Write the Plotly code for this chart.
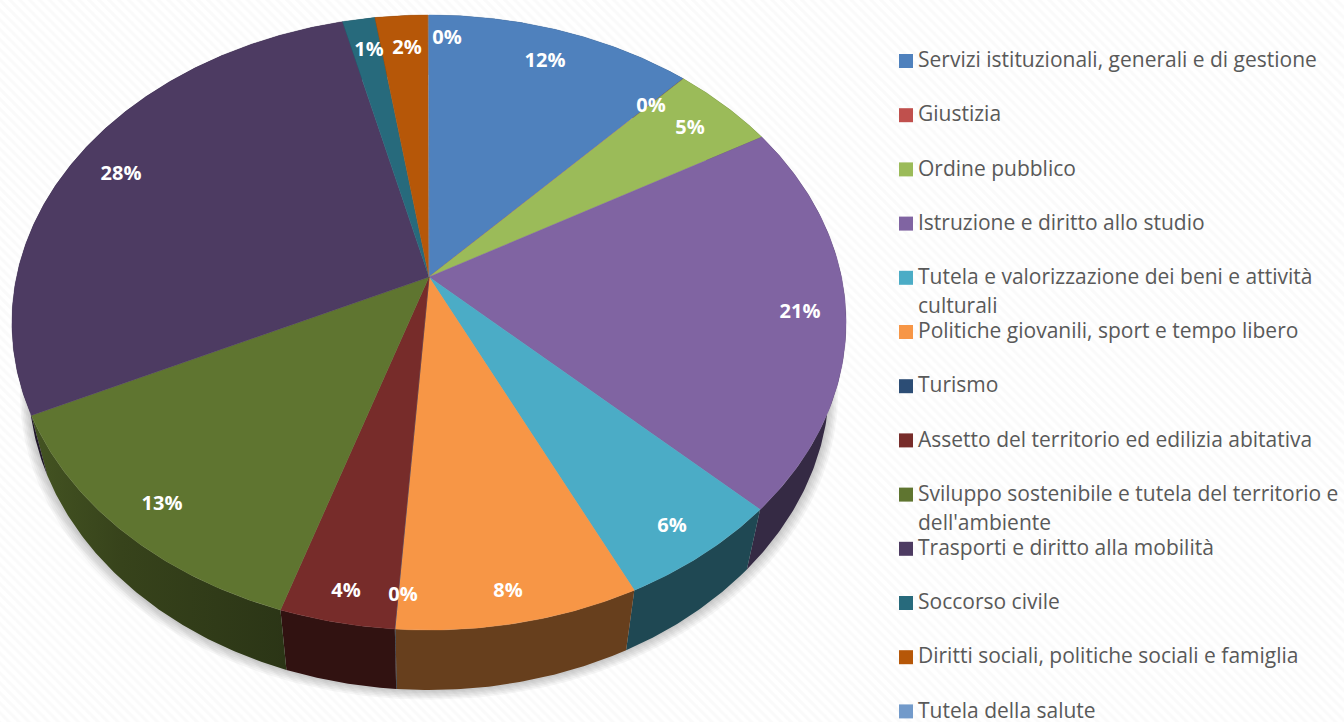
import numpy as np
import plotly.graph_objects as go

categories = ["Servizi istituzionali, generali e di gestione", "Giustizia", "Ordine pubblico",
              "Istruzione e diritto allo studio", "Tutela e valorizzazione dei beni e attività",
              "Politiche giovanili, sport e tempo libero", "Turismo",
              "Assetto del territorio ed edilizia abitativa",
              "Sviluppo sostenibile e tutela del territorio e", "Trasporti e diritto alla mobilità",
              "Soccorso civile", "Diritti sociali, politiche sociali e famiglia", "Tutela della salute"]
wrapped = {4: "culturali", 8: "dell'ambiente"}
values = [11.95, 0.02, 4.7, 20.52, 5.7, 8.2, 0.02, 3.88, 12.9, 28.23, 1.45, 2.37, 0.03]
colors = ["#4f81bd", "#c0504d", "#9bbb59", "#8064a2", "#4bacc6", "#f79646", "#2c4d75",
          "#772c2a", "#5f7530", "#4d3b62", "#276a7c", "#b65708", "#729aca"]
label_x = [545, 651, 690, 800, 672, 508, 403, 346, 162, 121, 369, 407, 447]
label_y = [62, 107, 129, 313, 527, 592, 596, 592, 505, 175, 51, 49, 39]

# projection of the tilted disc, in pixel-like axis units
APEX_X, APEX_Y = 429.0, 277.0
A, B, K = 300.8, 412.5, -0.148
DEPTH, SHRINK = 60.0, 0.96
SIDE = 0.42


def rim(frac):
    t = 2 * np.pi * np.asarray(frac)
    u, v = np.sin(t), -np.cos(t)
    w = 1 + K * v
    return APEX_X + B * u / w, APEX_Y + A * v / w


def lower(x, y, s=SHRINK, d=DEPTH):
    return APEX_X + s * (x - APEX_X), y + d


def shade(hexc, f):
    r, g, b = int(hexc[1:3], 16), int(hexc[3:5], 16), int(hexc[5:7], 16)
    return f"rgb({int(r*f)},{int(g*f)},{int(b*f)})"


total = sum(values)
ends = np.cumsum(values) / total
starts = np.concatenate([[0], ends[:-1]])

fig = go.Figure()

# faint striped page background
fig.add_trace(go.Scatter(x=[0, 1344, 1344, 0, 0], y=[0, 0, 722, 722, 0], mode="lines", fill="toself",
                         line=dict(width=0), hoverinfo="skip",
                         fillcolor="#ffffff",
                         fillpattern=dict(shape="\\", fgcolor="#f6f6f6", bgcolor="#ffffff", size=7, solidity=0.45)))

# soft shadow
full_x, full_y = rim(np.linspace(0, 1, 361))
for i in range(1, 7):
    sx, sy = lower(full_x, full_y, s=SHRINK + 0.0035 * i, d=DEPTH + 1.6 * i)
    fig.add_trace(go.Scatter(x=sx, y=sy, mode="lines", fill="toself", line=dict(width=0),
                             fillcolor="rgba(0,0,0,0.035)", hoverinfo="skip"))

# side walls
for st, en, c in zip(starts, ends, colors):
    f = np.linspace(st, en, max(2, int((en - st) * 720) + 2))
    x, y = rim(f)
    lx, ly = lower(x, y)
    xs = np.concatenate([x, lx[::-1], x[:1]])
    ys = np.concatenate([y, ly[::-1], y[:1]])
    kw = dict(fillcolor=shade(c, SIDE))
    if c == "#5f7530":
        kw = dict(fillgradient=dict(type="horizontal",
                                    colorscale=[[0, shade(c, 0.72)], [0.35, shade(c, 0.58)], [1, shade(c, 0.46)]]))
    fig.add_trace(go.Scatter(x=xs, y=ys, mode="lines", fill="toself", line=dict(width=0),
                             hoverinfo="skip", **kw))

# top faces
for st, en, c in zip(starts, ends, colors):
    f = np.linspace(st, en, max(2, int((en - st) * 720) + 2))
    x, y = rim(f)
    fig.add_trace(go.Scatter(x=np.concatenate([[APEX_X], x, [APEX_X]]),
                             y=np.concatenate([[APEX_Y], y, [APEX_Y]]),
                             mode="lines", fill="toself", fillcolor=c,
                             line=dict(width=0.4, color=c), hoverinfo="skip"))

# percentage labels
fig.add_trace(go.Scatter(x=label_x, y=label_y, mode="text",
                         text=[f"{v / total * 100:.0f}%" for v in values],
                         textposition="middle center", hoverinfo="skip",
                         textfont=dict(family="Open Sans", size=20, color="#ffffff", weight="bold")))

# legend column
leg_y = [61 + 54.2 * i for i in range(len(categories))]
text_y = [y + 1 for y in leg_y]
fig.add_trace(go.Scatter(x=[906] * len(categories), y=leg_y, mode="markers", hoverinfo="skip",
                         marker=dict(symbol="square", size=14, color=colors, line=dict(width=0))))
fig.add_trace(go.Scatter(x=[918] * len(categories), y=text_y, mode="text", text=categories,
                         textposition="middle right", hoverinfo="skip",
                         textfont=dict(family="Open Sans", size=21, color="#595959")))
fig.add_trace(go.Scatter(x=[918] * len(wrapped), y=[text_y[i] + 29 for i in wrapped], mode="text",
                         text=list(wrapped.values()), textposition="middle right", hoverinfo="skip",
                         textfont=dict(family="Open Sans", size=21, color="#595959")))

fig.update_layout(width=1344, height=722, margin=dict(l=0, r=0, t=0, b=0), showlegend=False,
                  paper_bgcolor="#ffffff", plot_bgcolor="#ffffff",
                  xaxis=dict(range=[0, 1344], visible=False, fixedrange=True),
                  yaxis=dict(range=[722, 0], visible=False, fixedrange=True))
fig.write_html("out.html", config={"displayModeBar": False},
               post_script="document.body.style.margin='0';document.documentElement.style.overflow='hidden';")
